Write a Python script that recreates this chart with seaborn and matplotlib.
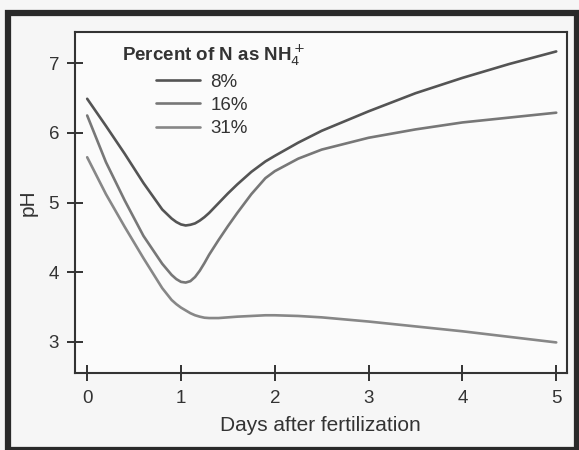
import matplotlib
matplotlib.use("Agg")
import matplotlib.pyplot as plt
import matplotlib.patches as mpatches
import seaborn as sns
import pandas as pd

# Values (days after fertilization vs pH)
days = [0, 0.2, 0.4, 0.6, 0.8, 0.9, 0.95, 1.0, 1.05, 1.1, 1.15, 1.2, 1.25,
        1.3, 1.4, 1.5, 1.6, 1.75, 1.9, 2.0, 2.25, 2.5, 3.0, 3.5, 4.0, 4.5, 5.0]
ph_8 = [6.49, 6.10, 5.70, 5.28, 4.90, 4.77, 4.72, 4.685, 4.67, 4.68, 4.70,
        4.74, 4.79, 4.85, 4.99, 5.13, 5.26, 5.44, 5.59, 5.67, 5.86, 6.03,
        6.31, 6.57, 6.79, 6.99, 7.17]
ph_16 = [6.25, 5.58, 5.03, 4.52, 4.12, 3.96, 3.90, 3.86, 3.85, 3.87, 3.93,
         4.02, 4.13, 4.25, 4.46, 4.66, 4.85, 5.12, 5.35, 5.45, 5.63, 5.76,
         5.93, 6.05, 6.15, 6.22, 6.29]
ph_31 = [5.65, 5.12, 4.65, 4.20, 3.77, 3.60, 3.54, 3.49, 3.45, 3.41, 3.38,
         3.36, 3.345, 3.34, 3.34, 3.35, 3.36, 3.37, 3.38, 3.38, 3.37, 3.35,
         3.29, 3.22, 3.15, 3.07, 2.99]
labels = ["8%", "16%", "31%"]
colors = {"8%": "#545454", "16%": "#777777", "31%": "#878787"}

df = pd.concat([
    pd.DataFrame({"days": days, "pH": vals, "pct": lab})
    for lab, vals in zip(labels, [ph_8, ph_16, ph_31])
])

sns.set_style("white")
plt.rcParams["font.family"] = ["Liberation Sans", "DejaVu Sans"]

fig = plt.figure(figsize=(5.79, 4.5), dpi=100, facecolor="#f6f6f6")
ax = fig.add_axes([0.1295, 0.171, 0.849, 0.758])
ax.set_facecolor("#fbfbfb")

sns.lineplot(data=df, x="days", y="pH", hue="pct", hue_order=labels,
             palette=colors, linewidth=1.9, ax=ax, sort=False)

ax.set_xlim(-0.13, 5.11)
ax.set_ylim(2.55, 7.45)
ax.set_xticks(range(6))
ax.set_yticks(range(3, 8))

for s in ax.spines.values():
    s.set_color("#333333")
    s.set_linewidth(1.5)
ax.tick_params(bottom=True, left=True, direction="inout", length=11,
               width=1.4, color="#333333", labelsize=13.5,
               labelcolor="#333333")
ax.tick_params(axis="x", pad=7)
ax.tick_params(axis="y", pad=6)

ax.set_xlabel("Days after fertilization", fontsize=15, color="#333333", labelpad=6)
ax.set_ylabel("pH", fontsize=15, color="#333333", labelpad=7.5)

# legend entries, title drawn as its own text so it can sit offset
leg = ax.legend(loc="upper left", bbox_to_anchor=(0.1464, 0.906),
                frameon=False, fontsize=13.5, borderpad=0,
                handlelength=2.35, handletextpad=0.53, labelspacing=0.33)
for t in leg.get_texts():
    t.set_color("#333333")
ax.text(0.0955, 0.932, r"Percent of N as NH$_4^+$", transform=ax.transAxes,
        ha="left", va="center", fontsize=13.5, fontweight="bold",
        color="#333333")

# dark frame around the whole picture
fig.patches.append(mpatches.Rectangle((0.013, 0.0), 0.984, 0.972,
                                      transform=fig.transFigure, fill=False,
                                      edgecolor="#2a2a2a", linewidth=4.5))

fig.savefig("out.png", dpi=100, facecolor=fig.get_facecolor())
